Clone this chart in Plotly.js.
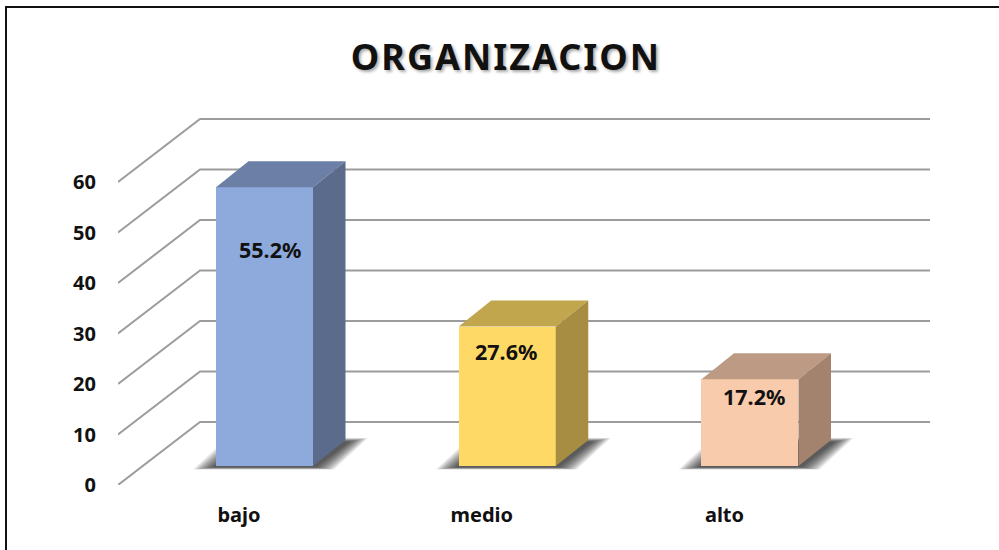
<!DOCTYPE html>
<html>
<head>
<meta charset="utf-8">
<script src="https://cdn.plot.ly/plotly-3.0.1.min.js"></script>
<style>
html,body{margin:0;padding:0;background:#fff;width:999px;height:550px;overflow:hidden}
#frame{position:absolute;left:5px;top:6px;width:1200px;height:800px;border:2px solid #111}
#chart{position:absolute;left:0;top:0;width:999px;height:550px}
.gtitle{letter-spacing:2px}
</style>
</head>
<body>
<div id="frame"></div>
<div id="chart"></div>
<script>
const categories = ['bajo', 'medio', 'alto'];
const values = [55.2, 27.6, 17.2];
const labels = ['55.2%', '27.6%', '17.2%'];
const frontColors = ['#8EA9DB', '#FFD966', '#F8CBAD'];
const topColors = ['#6B7FA7', '#C2A64D', '#BD9A83'];
const sideColors = ['#5B6B8C', '#A68D42', '#A3836D'];
const yTicks = [0, 10, 20, 30, 40, 50, 60];
const xPositions = [0, 1, 2];
const labelHeights = [46.6, 26.4, 17.6];
const labelShift = [5.5, -1.5, 4];

// plot geometry: pixels per axis unit
const PXX = 242.75, PXY = 5.05;
const XMIN = -0.4985, XMAX = 2.8466, YMAX = 76.04;
const ux = p => p / PXX, uy = p => p / PXY;
const floorDx = ux(82), floorDy = uy(63);
const barDx = ux(25.5), barDy = uy(19);
const depthDx = ux(32.5), depthDy = uy(26);
const barW = ux(97);

const shapes = [];
// walls and floor grid
yTicks.forEach(t => {
  const yb = t + floorDy;
  shapes.push({type:'path', xref:'x', yref:'y', layer:'below',
    path:`M ${XMIN} ${t} L ${XMIN + floorDx} ${yb} L ${XMAX} ${yb}`,
    line:{color:'#9c9c9c', width:2}, fillcolor:'rgba(0,0,0,0)'});
});
// soft floor shadows built from nested translucent layers
const shadowSteps = 14;
xPositions.forEach(x => {
  const cx = x + barDx, by = barDy;
  for (let s = 0; s < shadowSteps; s++) {
    const f = 1 - s / shadowSteps;
    const x0 = cx - barW/2 - ux(1 + 22 * f), x1 = cx + barW/2 + ux(1 + 20 * f);
    const y0 = by - uy(1 + 2.5 * f);
    const y1 = by + uy(24 + 4 * f);
    const d = ux(34);
    shapes.push({type:'path', xref:'x', yref:'y', layer:'below',
      path:`M ${x0} ${y0} L ${x1} ${y0} L ${x1 + d} ${y1} L ${x0 + d} ${y1} Z`,
      fillcolor:'rgba(20,20,20,0.075)', line:{width:0}});
  }
});

const traces = [{
  type:'bar', x:xPositions.map(x => x + barDx), y:values, base:barDy, width:barW,
  marker:{color:frontColors, line:{width:0}}, hoverinfo:'skip', showlegend:false
}];
const poly = (xs, ys, color) => ({type:'scatter', mode:'lines', x:xs, y:ys, fill:'toself',
  fillcolor:color, line:{width:0, color:color}, hoverinfo:'skip', showlegend:false});
xPositions.forEach((x, i) => {
  const l = x + barDx - barW/2, r = x + barDx + barW/2;
  const b = barDy, t = barDy + values[i];
  traces.push(poly([l, r, r + depthDx, l + depthDx, l], [t, t, t + depthDy, t + depthDy, t], topColors[i]));
  traces.push(poly([r, r + depthDx, r + depthDx, r, r], [b, b + depthDy, t + depthDy, t, b], sideColors[i]));
});

const FONT = '"Noto Sans", "Open Sans", sans-serif';
const layout = {
  width:999, height:550, autosize:false,
  paper_bgcolor:'rgba(0,0,0,0)', plot_bgcolor:'rgba(0,0,0,0)',
  margin:{l:118, r:69, t:101, b:65}, showlegend:false, bargap:0,
  title:{text:'<b>ORGANIZACION</b>', x:0.5065, xanchor:'center', y:0.896, yanchor:'middle',
    font:{family:FONT, size:36, color:'#111', shadow:'2px 2px 3px #aaa'}},
  xaxis:{range:[XMIN, XMAX], tickmode:'array', tickvals:xPositions, ticktext:categories,
    showgrid:false, zeroline:false, showline:false, ticks:'outside', ticklen:12,
    tickcolor:'rgba(0,0,0,0)', tickfont:{family:FONT, size:20, color:'#111', weight:700}},
  yaxis:{range:[0, YMAX], tickmode:'array', tickvals:yTicks, ticktext:yTicks.map(String),
    showgrid:false, zeroline:false, showline:false, ticks:'outside', ticklen:17,
    tickcolor:'rgba(0,0,0,0)', tickfont:{family:FONT, size:20, color:'#111', weight:700}},
  shapes:shapes,
  annotations:xPositions.map((x, i) => ({x:x + barDx + ux(labelShift[i]), y:labelHeights[i],
    xref:'x', yref:'y', text:'<b>' + labels[i] + '</b>', showarrow:false,
    font:{family:FONT, size:21.5, color:'#111'}}))
};
Plotly.newPlot('chart', traces, layout, {displayModeBar:false, staticPlot:true});
</script>
</body>
</html>
